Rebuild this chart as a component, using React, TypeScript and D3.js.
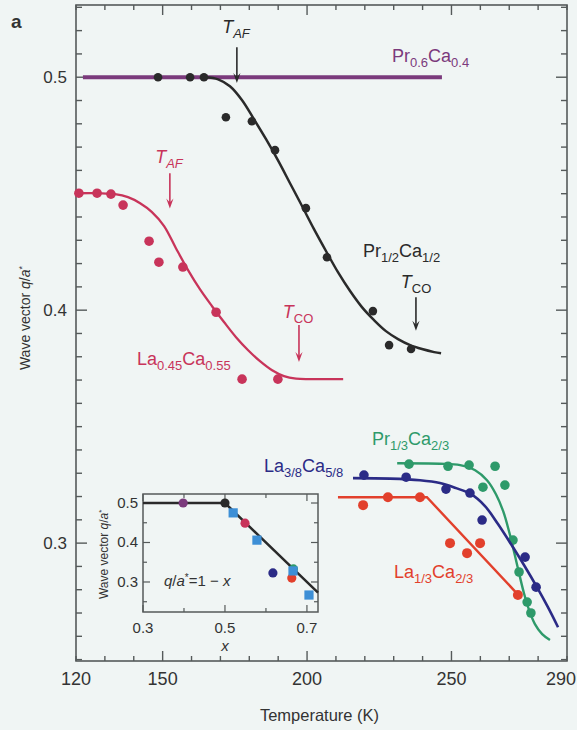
import React from "react";
import * as d3 from "d3";

const W = 577;
const H = 730;
const FONT = "'Liberation Sans', Arial, Helvetica, sans-serif";

// ---- Main panel data: wave vector q/a* versus temperature (K) ----
const pr06Line: [number, number][] = [
  [122.4, 0.5],
  [246.7, 0.5],
];

const prHalfPoints: [number, number][] = [
  [148.4, 0.5], [159.5, 0.5], [164.3, 0.5], [171.9, 0.4828], [180.9, 0.4811],
  [188.9, 0.4687], [199.6, 0.4438], [206.9, 0.4227], [222.8, 0.3996],
  [228.4, 0.385], [236.0, 0.3833],
];
const prHalfFit: [number, number][] = [
  [164.7, 0.5], [169.2, 0.4991], [173.3, 0.4961], [177.5, 0.4901], [181.6, 0.482],
  [185.8, 0.4734], [189.9, 0.4644], [194.1, 0.4545], [198.3, 0.4446], [202.4, 0.4348],
  [206.6, 0.4253], [210.7, 0.4163], [214.9, 0.4082], [219.0, 0.4013], [223.2, 0.3957],
  [227.3, 0.391], [231.5, 0.3876], [235.7, 0.385], [239.8, 0.3833], [244.0, 0.382],
  [246.4, 0.3815],
];

const la045Points: [number, number][] = [
  [121.0, 0.4502], [127.3, 0.4502], [132.1, 0.4498], [136.3, 0.4451], [145.3, 0.4296],
  [148.7, 0.4206], [157.0, 0.4185], [168.5, 0.3991], [177.5, 0.3704], [189.9, 0.3704],
];
const la045Fit: [number, number][] = [
  [120.0, 0.4502], [128.3, 0.4502], [133.5, 0.4498], [138.0, 0.4485], [142.2, 0.4459],
  [146.3, 0.4421], [150.5, 0.4361], [154.6, 0.4266], [158.8, 0.4172], [162.9, 0.409],
  [167.1, 0.4017], [171.3, 0.3948], [175.4, 0.3884], [179.6, 0.3828], [183.7, 0.3781],
  [187.9, 0.3742], [192.0, 0.3717], [196.2, 0.3706], [201.0, 0.3704], [212.5, 0.3704],
];

const pr13Points: [number, number][] = [
  [235.3, 0.3339], [248.8, 0.333], [256.1, 0.3335], [265.1, 0.333], [260.9, 0.324],
  [268.5, 0.3249], [271.3, 0.3013], [273.4, 0.2876], [276.2, 0.2747], [277.5, 0.27],
];
const pr13Fit: [number, number][] = [
  [231.2, 0.3343], [246.0, 0.3341], [253.0, 0.3335], [258.2, 0.3313], [262.3, 0.327],
  [265.4, 0.321], [267.9, 0.3137], [269.9, 0.3052], [271.7, 0.2961], [273.4, 0.2871],
  [275.1, 0.2785], [276.9, 0.2712], [278.9, 0.2652], [281.4, 0.2609], [284.1, 0.2584],
];

const la38Points: [number, number][] = [
  [219.7, 0.3292], [234.3, 0.3283], [248.1, 0.3232], [256.4, 0.3215], [260.6, 0.3099],
  [275.5, 0.294], [279.3, 0.2811],
];
const la38Fit: [number, number][] = [
  [215.9, 0.3279], [228.7, 0.3277], [239.1, 0.327], [246.0, 0.3258], [251.6, 0.3236],
  [256.8, 0.321], [261.6, 0.3159], [266.1, 0.3082], [270.6, 0.2996], [275.1, 0.2906],
  [279.6, 0.2811], [283.4, 0.2725], [286.9, 0.2639],
];

const la13Points: [number, number][] = [
  [219.4, 0.3163], [228.0, 0.3197], [239.1, 0.3197], [249.5, 0.3], [255.4, 0.2957],
  [259.9, 0.3], [273.0, 0.2777],
];
const la13Fit: [number, number][] = [
  [210.7, 0.3197], [241.5, 0.3197], [273.2, 0.2777],
];

// ---- Inset data: q/a* versus Ca content x ----
const insetLine: [number, number][] = [
  [0.3, 0.5], [0.5, 0.5], [0.727, 0.273],
];
const insetCircles: { x: number; q: number; c: string }[] = [
  { x: 0.398, q: 0.5, c: "#7b3a7c" },
  { x: 0.5, q: 0.5, c: "#2a2a2a" },
  { x: 0.549, q: 0.449, c: "#c8345a" },
  { x: 0.667, q: 0.333, c: "#2e9a6a" },
  { x: 0.617, q: 0.323, c: "#2b2b86" },
  { x: 0.663, q: 0.31, c: "#e2402c" },
];
const insetSquares: [number, number][] = [
  [0.52, 0.475], [0.578, 0.406], [0.666, 0.328], [0.705, 0.267],
];

const xTickLabels = [120, 150, 200, 250, 290];
const yTickLabels = [0.3, 0.4, 0.5];
const insetXLabels = [0.3, 0.5, 0.7];
const insetYLabels = [0.3, 0.4, 0.5];

const COL = {
  purple: "#7b3a7c",
  black: "#2a2a2a",
  crimson: "#c8345a",
  green: "#2e9a6a",
  navy: "#2b2b86",
  red: "#e2402c",
  blue: "#3d8fd6",
  axis: "#555a5a",
  text: "#333333",
  bg: "#f0f5f4",
};

const x = d3.scaleLinear().domain([120, 290]).range([76, 567]);
const y = d3.scaleLinear().domain([0.2494, 0.531]).range([661, 5]);
const ix = d3.scaleLinear().domain([0.3, 0.727]).range([143, 318]);
const iy = d3.scaleLinear().domain([0.224, 0.5228]).range([612, 494]);

const fitLine = d3
  .line<[number, number]>()
  .x((d) => x(d[0]))
  .y((d) => y(d[1]))
  .curve(d3.curveCatmullRom.alpha(0.5));
const straight = d3
  .line<[number, number]>()
  .x((d) => x(d[0]))
  .y((d) => y(d[1]));
const insetPath = d3
  .line<[number, number]>()
  .x((d) => ix(d[0]))
  .y((d) => iy(d[1]));

function Formula({
  px, py, parts, fill, size = 18, sub = 13,
}: {
  px: number; py: number; parts: [string, string][]; fill: string; size?: number; sub?: number;
}) {
  const shift = 5;
  const kids: React.ReactNode[] = [];
  parts.forEach(([main, s], i) => {
    kids.push(
      <tspan key={"m" + i} dy={i === 0 ? 0 : -shift}>{main}</tspan>
    );
    kids.push(
      <tspan key={"s" + i} fontSize={sub} dy={shift}>{s}</tspan>
    );
  });
  return (
    <text x={px} y={py} fill={fill} fontSize={size} fontFamily={FONT}>
      {kids}
    </text>
  );
}

function TLabel({
  px, py, sub, fill, subItalic,
}: { px: number; py: number; sub: string; fill: string; subItalic: boolean }) {
  return (
    <text x={px} y={py} fill={fill} fontSize={18} fontFamily={FONT} textAnchor="middle">
      <tspan fontStyle="italic">T</tspan>
      <tspan fontSize={13} dy={5} fontStyle={subItalic ? "italic" : "normal"}>{sub}</tspan>
    </text>
  );
}

function Arrow({ T, q1, q2, color }: { T: number; q1: number; q2: number; color: string }) {
  const ax = x(T);
  const a = y(q1);
  const b = y(q2);
  return (
    <g>
      <line x1={ax} x2={ax} y1={a} y2={b - 4} stroke={color} strokeWidth={1.6} />
      <path d={`M${ax - 3.6},${b - 10} L${ax},${b} L${ax + 3.6},${b - 10} L${ax},${b - 6} Z`} fill={color} />
    </g>
  );
}

export default function App() {
  const [x0, x1] = x.range();
  const [yb, yt] = y.range();
  const minorX = d3.range(120, 291, 10);
  const minorY = d3.range(0.25, 0.531, 0.01);
  const iMinorY = d3.range(0.25, 0.52, 0.05);
  const iMinorX = d3.range(0.3, 0.73, 0.1);

  return (
    <svg
      width={W}
      height={H}
      viewBox={`0 0 ${W} ${H}`}
      style={{ position: "absolute", left: 0, top: 0, display: "block" }}
    >
      <rect width={W} height={H} fill={COL.bg} />

      {/* panel letter */}
      <text x={11} y={28} fontSize={19} fontWeight="bold" fill="#333" fontFamily={FONT}>a</text>

      {/* frame */}
      <rect x={x0} y={yt} width={x1 - x0} height={yb - yt} fill="none" stroke={COL.axis} strokeWidth={1.6} />

      {/* temperature ticks, bottom and top */}
      {minorX.map((t) => {
        const major = t === 150 || t === 200 || t === 250;
        const len = major ? 10 : 5;
        return (
          <g key={"xt" + t}>
            <line x1={x(t)} x2={x(t)} y1={yb} y2={yb - len} stroke={COL.axis} strokeWidth={1.4} />
            <line x1={x(t)} x2={x(t)} y1={yt} y2={yt + len} stroke={COL.axis} strokeWidth={1.4} />
          </g>
        );
      })}
      {/* wave-vector ticks, left and right */}
      {minorY.map((v, i) => {
        const major = Math.abs(v * 10 - Math.round(v * 10)) < 1e-6;
        const len = major ? 11 : 6;
        return (
          <g key={"yt" + i}>
            <line x1={x0} x2={x0 + len} y1={y(v)} y2={y(v)} stroke={COL.axis} strokeWidth={1.4} />
            <line x1={x1} x2={x1 - len} y1={y(v)} y2={y(v)} stroke={COL.axis} strokeWidth={1.4} />
          </g>
        );
      })}

      {xTickLabels.map((t) => (
        <text
          key={"xl" + t}
          x={t === 290 ? W - 1 : x(t)}
          y={685}
          fontSize={18}
          fill={COL.text}
          textAnchor={t === 290 ? "end" : "middle"}
          fontFamily={FONT}
        >
          {t}
        </text>
      ))}
      {yTickLabels.map((v) => (
        <text key={"yl" + v} x={67} y={y(v) + 6} fontSize={17} fill={COL.text} textAnchor="end" fontFamily={FONT}>
          {v.toFixed(1)}
        </text>
      ))}

      <text x={(x0 + x1) / 2 - 2} y={721} fontSize={16.5} fill={COL.text} textAnchor="middle" fontFamily={FONT}>
        Temperature (K)
      </text>
      <text
        transform={`translate(30, 318) rotate(-90)`}
        fontSize={14}
        fill={COL.text}
        textAnchor="middle"
        fontFamily={FONT}
      >
        Wave vector <tspan fontStyle="italic">q</tspan>/<tspan fontStyle="italic">a</tspan>
        <tspan fontSize={9} dy={-5}>*</tspan>
      </text>

      {/* Pr0.6Ca0.4 */}
      <path d={straight(pr06Line) || ""} stroke={COL.purple} strokeWidth={4} fill="none" />

      {/* Pr1/2Ca1/2 */}
      <path d={fitLine(prHalfFit) || ""} stroke={COL.black} strokeWidth={2.5} fill="none" />
      {prHalfPoints.map((d, i) => (
        <circle key={"pb" + i} cx={x(d[0])} cy={y(d[1])} r={4.3} fill={COL.black} />
      ))}

      {/* La0.45Ca0.55 */}
      <path d={fitLine(la045Fit) || ""} stroke={COL.crimson} strokeWidth={2.3} fill="none" />
      {la045Points.map((d, i) => (
        <circle key={"pc" + i} cx={x(d[0])} cy={y(d[1])} r={4.8} fill={COL.crimson} />
      ))}

      {/* Pr1/3Ca2/3 */}
      <path d={fitLine(pr13Fit) || ""} stroke={COL.green} strokeWidth={2.4} fill="none" />
      {pr13Points.map((d, i) => (
        <circle key={"pg" + i} cx={x(d[0])} cy={y(d[1])} r={4.8} fill={COL.green} />
      ))}

      {/* La3/8Ca5/8 */}
      <path d={fitLine(la38Fit) || ""} stroke={COL.navy} strokeWidth={2.6} fill="none" />
      {la38Points.map((d, i) => (
        <circle key={"pn" + i} cx={x(d[0])} cy={y(d[1])} r={4.8} fill={COL.navy} />
      ))}

      {/* La1/3Ca2/3 */}
      <path d={straight(la13Fit) || ""} stroke={COL.red} strokeWidth={2.4} fill="none" />
      {la13Points.map((d, i) => (
        <circle key={"pr" + i} cx={x(d[0])} cy={y(d[1])} r={5} fill={COL.red} />
      ))}

      {/* transition arrows and labels */}
      <TLabel px={236} py={33} sub="AF" fill="#2a2a2a" subItalic />
      <Arrow T={175.7} q1={0.5129} q2={0.4975} color="#2a2a2a" />
      <TLabel px={169} py={163} sub="AF" fill={COL.crimson} subItalic />
      <Arrow T={152.5} q1={0.4588} q2={0.4436} color={COL.crimson} />
      <TLabel px={416} py={288} sub="CO" fill="#2a2a2a" subItalic={false} />
      <Arrow T={237.7} q1={0.4056} q2={0.3912} color="#2a2a2a" />
      <TLabel px={298} py={318} sub="CO" fill={COL.crimson} subItalic={false} />
      <Arrow T={197.2} q1={0.3936} q2={0.3777} color={COL.crimson} />

      <Formula px={392} py={62} parts={[["Pr", "0.6"], ["Ca", "0.4"]]} fill={COL.purple} />
      <Formula px={363} py={257} parts={[["Pr", "1/2"], ["Ca", "1/2"]]} fill="#2a2a2a" />
      <Formula px={137} py={365} parts={[["La", "0.45"], ["Ca", "0.55"]]} fill={COL.crimson} />
      <Formula px={372} py={445} parts={[["Pr", "1/3"], ["Ca", "2/3"]]} fill={COL.green} />
      <Formula px={264} py={472} parts={[["La", "3/8"], ["Ca", "5/8"]]} fill={COL.navy} />
      <Formula px={394} py={578} parts={[["La", "1/3"], ["Ca", "2/3"]]} fill={COL.red} />

      {/* inset */}
      <g>
        <rect
          x={ix(0.3)}
          y={iy(0.5228)}
          width={ix(0.727) - ix(0.3)}
          height={iy(0.224) - iy(0.5228)}
          fill={COL.bg}
          stroke={COL.axis}
          strokeWidth={1.5}
        />
        {iMinorY.map((v, i) => {
          const major = Math.abs(v * 10 - Math.round(v * 10)) < 1e-6;
          const len = major ? 7 : 4;
          return (
            <g key={"iyt" + i}>
              <line x1={ix(0.3)} x2={ix(0.3) + len} y1={iy(v)} y2={iy(v)} stroke={COL.axis} strokeWidth={1.2} />
              <line x1={ix(0.727)} x2={ix(0.727) - len} y1={iy(v)} y2={iy(v)} stroke={COL.axis} strokeWidth={1.2} />
            </g>
          );
        })}
        {iMinorX.map((v, i) => {
          const major = i % 2 === 0;
          const len = major ? 7 : 4;
          return (
            <g key={"ixt" + i}>
              <line x1={ix(v)} x2={ix(v)} y1={iy(0.224)} y2={iy(0.224) - len} stroke={COL.axis} strokeWidth={1.2} />
              <line x1={ix(v)} x2={ix(v)} y1={iy(0.5228)} y2={iy(0.5228) + len} stroke={COL.axis} strokeWidth={1.2} />
            </g>
          );
        })}
        {insetXLabels.map((v) => (
          <text key={"ixl" + v} x={ix(v)} y={633} fontSize={15} fill={COL.text} textAnchor="middle" fontFamily={FONT}>
            {v.toFixed(1)}
          </text>
        ))}
        {insetYLabels.map((v) => (
          <text key={"iyl" + v} x={ix(0.3) - 5} y={iy(v) + 5} fontSize={15} fill={COL.text} textAnchor="end" fontFamily={FONT}>
            {v.toFixed(1)}
          </text>
        ))}
        <text x={ix(0.5)} y={651} fontSize={15} fontStyle="italic" fill={COL.text} textAnchor="middle" fontFamily={FONT}>
          x
        </text>
        <text
          transform={`translate(108, ${iy(0.37)}) rotate(-90)`}
          fontSize={12}
          fill={COL.text}
          textAnchor="middle"
          fontFamily={FONT}
        >
          Wave vector <tspan fontStyle="italic">q</tspan>/<tspan fontStyle="italic">a</tspan>
          <tspan fontSize={8} dy={-4}>*</tspan>
        </text>

        <path d={insetPath(insetLine) || ""} stroke={COL.black} strokeWidth={2.5} fill="none" />
        {insetCircles.map((d, i) => (
          <circle key={"ic" + i} cx={ix(d.x)} cy={iy(d.q)} r={4.6} fill={d.c} />
        ))}
        {insetSquares.map((d, i) => (
          <rect key={"is" + i} x={ix(d[0]) - 4.6} y={iy(d[1]) - 4.6} width={9.2} height={9.2} fill={COL.blue} />
        ))}
        <text x={164} y={586} fontSize={15} fill={COL.text} fontFamily={FONT}>
          <tspan fontStyle="italic">q</tspan>/<tspan fontStyle="italic">a</tspan>
          <tspan fontSize={10} dy={-5}>*</tspan>
          <tspan dy={5}>=1 − </tspan>
          <tspan fontStyle="italic">x</tspan>
        </text>
      </g>
    </svg>
  );
}
